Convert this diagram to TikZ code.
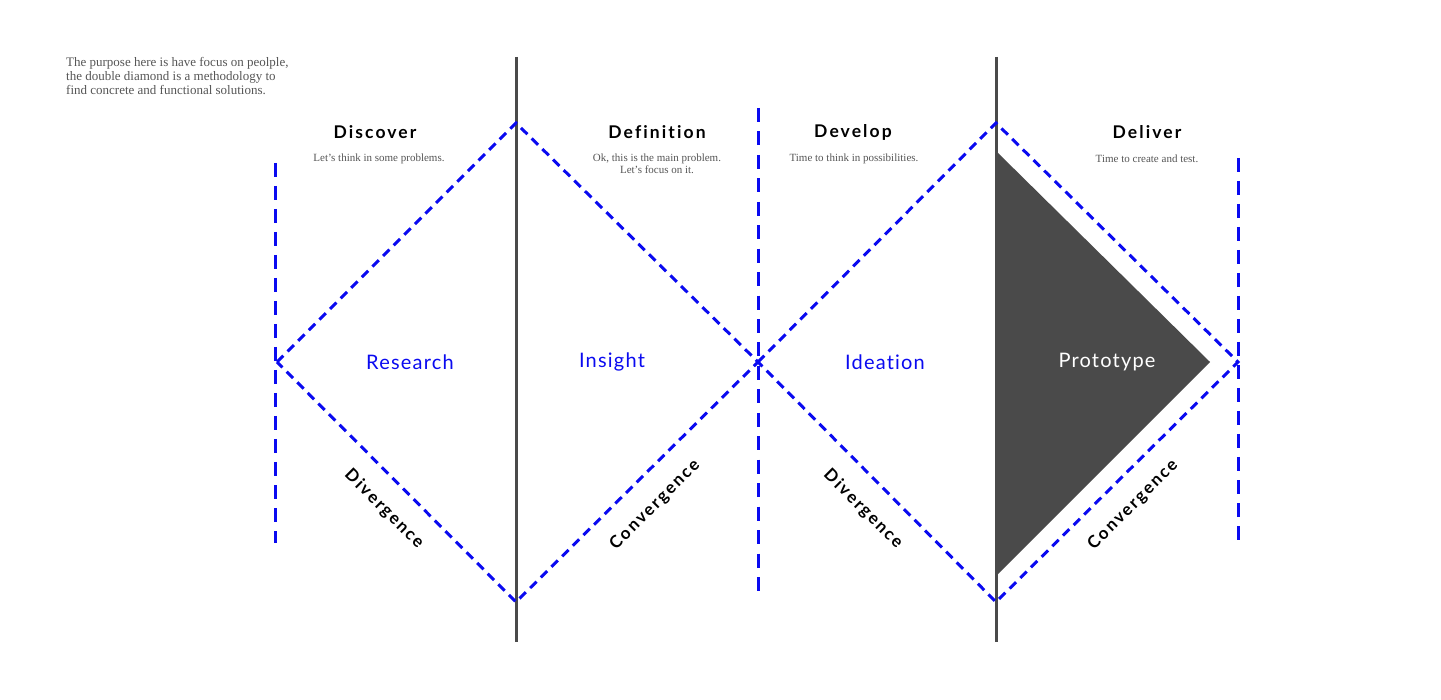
\documentclass[tikz,border=0pt]{standalone}
\usepackage{fontspec}
\setmainfont{Liberation Serif}
\newfontfamily\headfont[LetterSpace=12,Ligatures={NoCommon,NoRare}]{Lato}
\newfontfamily\labfont[LetterSpace=6,Ligatures={NoCommon,NoRare}]{Lato}
\definecolor{dgray}{HTML}{4A4A4A}
\definecolor{tgray}{HTML}{555555}
\definecolor{dblue}{HTML}{0A0AF0}
\begin{document}
\begin{tikzpicture}[x=1pt,y=-1pt,
  bluedash/.style={draw=dblue,line width=3pt,dash pattern=on 9pt off 6pt},
  vdash/.style={draw=dblue,line width=3pt,dash pattern=on 14pt off 9pt},
  graybar/.style={draw=dgray,line width=3pt},
  heading/.style={font=\headfont\bfseries\fontsize{17.5}{20}\selectfont,text=black,inner sep=0pt},
  small/.style={font=\fontsize{11}{12}\selectfont,text=tgray,inner sep=0pt,align=center},
  phase/.style={font=\labfont\fontsize{20}{22}\selectfont,text=dblue,inner sep=0pt},
  slant/.style={font=\headfont\bfseries\fontsize{17}{20}\selectfont,text=black,inner sep=0pt}
]
\useasboundingbox (0,0) rectangle (1441,700);
% key points
\coordinate (L1) at (277,362);
\coordinate (T1) at (516,123);
\coordinate (M) at (758,362);
\coordinate (B1) at (516,602);
\coordinate (T2) at (996,123);
\coordinate (R2) at (1238,362);
\coordinate (B2) at (996,602);
% gray bars
\coordinate (g1t) at (516,57); \coordinate (g1b) at (516,642);
\coordinate (g2t) at (996,57); \coordinate (g2b) at (996,642);
\draw[graybar] (g1t) -- (g1b);
\draw[graybar] (g2t) -- (g2b);
% triangle
\coordinate (P1) at (997,152); \coordinate (P2) at (1210,362); \coordinate (P3) at (997,575);
\fill[dgray] (P1) -- (P2) -- (P3) -- cycle;
% vertical blue dashed
\coordinate (v1t) at (275,163); \coordinate (v1b) at (275,543);
\coordinate (v2t) at (758,108); \coordinate (v2b) at (758,591);
\coordinate (v3t) at (1238,158); \coordinate (v3b) at (1238,540);
\draw[vdash] (v1t) -- (v1b);
\draw[vdash,dash pattern=on 14pt off 9.45pt] (v2t) -- (v2b);
\draw[vdash] (v3t) -- (v3b);
% diamonds
\draw[bluedash] (L1) -- (T1) -- (M) -- (B1) -- cycle;
\draw[bluedash] (M) -- (T2) -- (R2) -- (B2) -- cycle;
% intro text
\node[anchor=north west,inner sep=0pt,align=left,text=tgray,font=\fontsize{13}{14}\selectfont] (intro) at (66,57)
 {The purpose here is have focus on peolple,\\the double diamond is a methodology to\\find concrete and functional solutions.};
% headings
\node[heading] (h1) at (375,132) {Discover};
\node[heading] (h2) at (657,132) {Definition};
\node[heading] (h3) at (853,132) {Develop};
\node[heading] (h4) at (1147,132) {Deliver};
% small texts
\node[small] (s1) at (379,159) {Let’s think in some problems.};
\node[small,anchor=north] (s2) at (657,154) {Ok, this is the main problem.\\Let’s focus on it.};
\node[small] (s3) at (854,159) {Time to think in possibilities.};
\node[small] (s4) at (1147,159) {Time to create and test.};
% phase labels
\node[phase] (p1) at (410,362) {Research};
\node[phase] (p2) at (612,362) {Insight};
\node[phase] (p3) at (885,362) {Ideation};
\node[phase,text=white] (p4) at (1107,362) {Prototype};
% slanted labels
\node[slant,rotate=-45] (d1) at (384,509) {Divergence};
\node[slant,rotate=45] (c1) at (655,505) {Convergence};
\node[slant,rotate=-45] (d2) at (863,509) {Divergence};
\node[slant,rotate=45] (c2) at (1133,505) {Convergence};
\end{tikzpicture}
\end{document}
